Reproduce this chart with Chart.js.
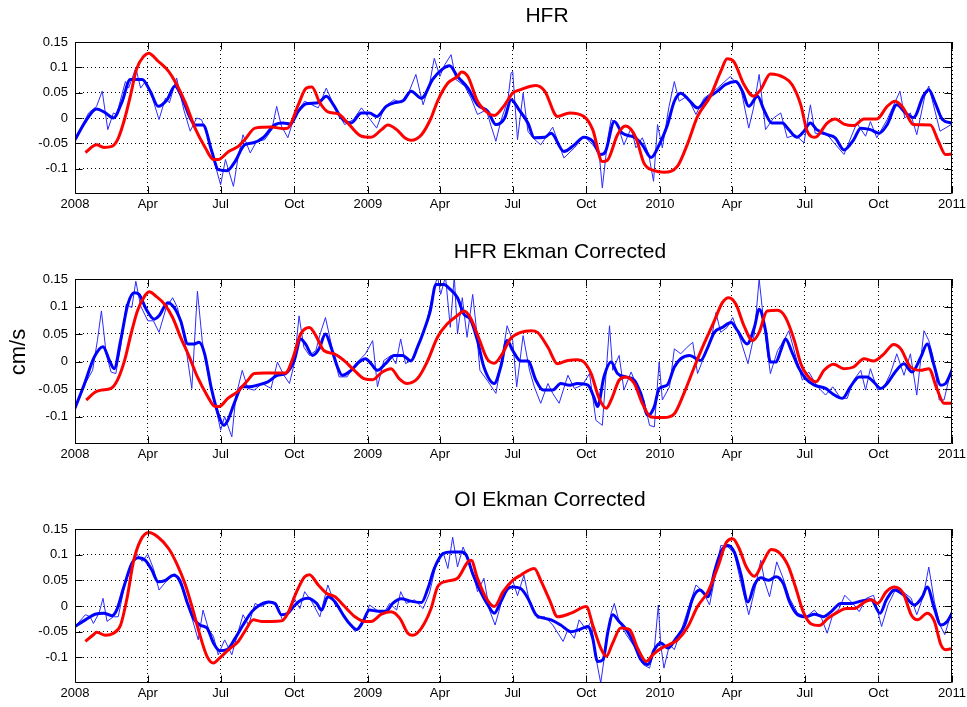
<!DOCTYPE html>
<html>
<head>
<meta charset="utf-8">
<script src="https://cdn.jsdelivr.net/npm/chart.js@4.4.1/dist/chart.umd.min.js"></script>
<style>
  html, body { margin: 0; padding: 0; background: #fff; }
  #wrap { position: relative; width: 967px; height: 707px; overflow: hidden; background: #fff; }
  #wrap canvas { position: absolute; left: 0; }
</style>
</head>
<body>
<div id="wrap">
  <canvas id="p1" width="967" height="232" style="top:0px"></canvas>
  <canvas id="p2" width="967" height="240" style="top:232px"></canvas>
  <canvas id="p3" width="967" height="235" style="top:472px"></canvas>
</div>
<script>
// Time axis: days since 1 Jan 2008, ticks every quarter
const X_TICK_DAYS = [0, 91, 182, 274, 366, 456, 547, 639, 731, 821, 912, 1004, 1096];
const X_TICK_LABELS = ['2008', 'Apr', 'Jul', 'Oct', '2009', 'Apr', 'Jul', 'Oct', '2010', 'Apr', 'Jul', 'Oct', '2011'];
const Y_TICKS = [-0.1, -0.05, 0, 0.05, 0.1, 0.15];

// ---- HFR ----
const hfrRedDays = [13,27,36,46,54,62,69,77,86,92,104,117,125,138,150,163,173,179,192,204,212,225,246,260,266,279,289,296,306,316,329,341,358,370,383,391,402,412,420,433,445,453,466,478,483,491,503,516,524,537,547,557,576,587,603,618,636,647,659,665,678,688,701,711,724,736,753,765,778,794,807,815,823,836,848,857,869,886,896,907,915,925,940,950,961,973,986,1002,1015,1025,1035,1048,1069,1079,1088,1096];
const hfrRedVel = [-0.068,-0.053,-0.058,-0.056,-0.040,-0.002,0.042,0.097,0.122,0.128,0.112,0.092,0.072,0.030,-0.020,-0.059,-0.082,-0.082,-0.066,-0.056,-0.043,-0.020,-0.018,-0.021,-0.020,0.026,0.059,0.061,0.030,0.012,0.008,-0.010,-0.036,-0.038,-0.023,-0.014,-0.023,-0.039,-0.044,-0.033,0.000,0.033,0.069,0.082,0.091,0.082,0.033,0.010,0.005,0.026,0.049,0.056,0.064,0.053,0.003,0.010,0.003,-0.023,-0.086,-0.084,-0.033,-0.016,-0.039,-0.089,-0.104,-0.107,-0.095,-0.053,0.003,0.043,0.092,0.117,0.112,0.066,0.043,0.056,0.087,0.080,0.066,0.026,-0.026,-0.038,-0.010,-0.002,-0.012,-0.015,-0.002,-0.002,0.023,0.033,0.020,-0.013,-0.014,-0.046,-0.072,-0.071];

const hfrBoldDays = [0,13,27,38,48,59,69,84,94,104,115,125,133,144,150,160,171,179,190,200,212,223,235,250,260,269,279,289,304,314,323,333,345,358,368,377,389,399,410,420,433,447,458,468,478,491,503,516,526,537,545,555,566,574,587,595,611,624,636,647,657,663,674,684,699,709,720,730,740,749,757,767,778,790,803,813,826,834,842,853,861,871,884,892,902,911,919,927,940,950,961,973,982,994,1005,1015,1027,1038,1048,1060,1067,1075,1084,1096];
const hfrBoldVel = [-0.043,-0.007,0.018,0.010,0.000,0.033,0.076,0.076,0.053,0.023,0.036,0.063,0.043,0.000,-0.014,-0.014,-0.066,-0.102,-0.104,-0.086,-0.053,-0.049,-0.039,-0.013,-0.010,-0.012,0.013,0.028,0.030,0.043,0.026,0.000,-0.010,0.010,0.010,0.003,0.023,0.030,0.034,0.053,0.039,0.076,0.095,0.103,0.082,0.059,0.026,0.013,-0.013,0.000,0.036,0.016,-0.010,-0.039,-0.038,-0.030,-0.066,-0.053,-0.038,-0.046,-0.072,-0.066,-0.007,-0.030,-0.038,-0.053,-0.078,-0.053,-0.016,0.033,0.049,0.036,0.020,0.039,0.053,0.066,0.072,0.053,0.023,0.043,0.016,-0.010,-0.010,-0.023,-0.038,-0.026,-0.010,-0.023,-0.033,-0.039,-0.063,-0.043,-0.020,-0.023,-0.030,-0.013,0.026,0.010,0.001,0.043,0.056,0.030,-0.003,-0.010];

const hfrThinDays = [0,17,27,34,41,48,52,63,67,76,82,88,96,105,113,118,127,136,144,152,158,167,175,182,188,198,204,210,219,227,237,246,252,258,266,275,287,296,304,314,325,337,348,358,366,377,387,399,408,416,426,435,443,449,456,462,470,476,487,495,503,514,520,526,532,541,545,547,553,560,566,572,582,597,611,624,636,647,655,659,666,670,678,686,695,701,709,717,723,728,734,742,749,755,765,776,786,803,819,832,842,848,855,863,873,882,890,900,911,919,925,940,961,977,988,994,1002,1015,1031,1037,1044,1052,1062,1067,1081,1096];
const hfrThinVel = [-0.043,0.010,0.023,0.053,-0.023,0.010,0.007,0.072,0.059,0.099,0.059,0.072,0.043,-0.003,0.039,0.030,0.079,0.016,-0.026,0.000,-0.003,-0.039,-0.092,-0.132,-0.082,-0.135,-0.076,-0.033,-0.069,-0.046,-0.043,-0.023,0.023,-0.016,-0.039,0.007,0.033,0.026,0.020,0.059,0.020,-0.013,-0.003,0.020,0.003,-0.020,0.023,0.036,0.030,0.046,0.086,0.026,0.066,0.118,0.082,0.105,0.125,0.076,0.063,0.039,0.007,0.016,-0.016,-0.046,-0.007,0.036,0.089,0.092,-0.043,0.049,-0.026,-0.039,-0.053,-0.018,-0.079,-0.059,-0.036,-0.053,-0.069,-0.138,-0.039,-0.003,-0.013,-0.053,-0.020,-0.059,-0.039,-0.072,-0.125,-0.013,-0.059,0.020,0.072,0.033,0.043,0.007,0.039,0.059,0.082,0.059,-0.020,0.020,0.086,-0.023,0.000,0.010,-0.039,-0.033,-0.049,0.026,-0.030,-0.033,-0.072,-0.010,-0.036,-0.007,-0.039,-0.003,0.053,0.000,0.010,-0.033,0.043,0.063,-0.026,-0.012];

// ---- HFR Ekman Corrected ----
const ekmRedDays = [14,26,33,45,53,62,70,78,87,93,101,112,122,132,143,153,166,174,180,191,203,216,224,236,249,263,272,282,293,301,311,324,336,349,361,372,384,395,405,415,428,440,453,465,480,486,494,505,515,524,534,544,557,570,578,591,603,616,628,636,645,655,664,670,680,688,699,709,720,736,749,761,774,786,799,809,817,826,836,847,855,865,878,888,899,907,915,926,936,948,961,973,986,998,1011,1023,1032,1044,1057,1067,1077,1086,1096];
const ekmRedVel = [-0.070,-0.055,-0.052,-0.049,-0.034,0.002,0.050,0.092,0.119,0.127,0.119,0.104,0.080,0.044,0.008,-0.028,-0.064,-0.081,-0.082,-0.067,-0.055,-0.034,-0.022,-0.021,-0.021,-0.021,0.005,0.050,0.062,0.047,0.020,0.014,0.002,-0.016,-0.031,-0.033,-0.019,-0.013,-0.031,-0.040,-0.031,-0.001,0.044,0.068,0.086,0.092,0.080,0.041,0.005,-0.003,0.014,0.041,0.053,0.056,0.053,0.026,-0.004,0.002,0.003,-0.001,-0.022,-0.067,-0.085,-0.070,-0.034,-0.028,-0.040,-0.076,-0.101,-0.102,-0.095,-0.058,-0.010,0.032,0.074,0.107,0.116,0.104,0.065,0.038,0.053,0.092,0.093,0.080,0.038,-0.004,-0.025,-0.037,-0.016,-0.005,-0.013,-0.010,0.005,0.001,0.014,0.031,0.023,-0.010,-0.016,-0.013,-0.049,-0.076,-0.076];

const ekmBoldDays = [0,12,24,35,43,49,57,66,74,80,89,99,105,116,124,132,141,149,155,162,170,180,186,191,199,209,218,228,241,253,263,274,282,288,297,305,313,320,328,334,345,355,363,370,378,388,399,409,420,428,436,444,451,461,469,478,486,494,503,511,524,532,540,547,557,566,576,585,597,607,618,628,641,649,653,661,670,678,688,699,707,716,724,730,740,749,757,768,782,790,799,809,820,828,840,849,855,863,869,876,882,888,896,905,913,924,938,948,959,969,980,990,998,1007,1015,1025,1036,1046,1057,1065,1073,1082,1088,1096];
const ekmBoldVel = [-0.085,-0.040,0.008,0.027,0.002,-0.013,0.038,0.104,0.125,0.122,0.095,0.077,0.083,0.107,0.098,0.074,0.032,0.032,0.035,0.014,-0.046,-0.100,-0.116,-0.107,-0.076,-0.046,-0.046,-0.043,-0.037,-0.025,-0.022,0.002,0.041,0.032,0.011,0.023,0.050,0.026,-0.010,-0.025,-0.016,-0.001,0.005,-0.004,-0.016,-0.004,0.011,0.011,0.001,0.026,0.056,0.092,0.140,0.140,0.131,0.116,0.086,0.077,0.038,-0.010,-0.040,-0.010,0.038,0.020,0.001,0.001,-0.034,-0.052,-0.052,-0.040,-0.043,-0.040,-0.043,-0.067,-0.082,-0.028,-0.001,-0.022,-0.028,-0.034,-0.058,-0.098,-0.082,-0.049,-0.043,-0.010,0.005,0.011,0.002,0.023,0.053,0.062,0.071,0.056,0.032,0.062,0.095,0.056,-0.001,-0.001,0.020,0.041,0.017,-0.013,-0.031,-0.043,-0.049,-0.060,-0.067,-0.046,-0.028,-0.028,-0.037,-0.049,-0.040,-0.019,-0.004,-0.019,0.008,0.032,-0.004,-0.043,-0.040,-0.016];

const ekmThinDays = [0,14,22,28,33,39,45,51,57,64,71,76,82,91,98,105,114,122,128,137,146,153,159,166,174,182,187,196,201,209,216,224,234,245,253,261,268,274,280,286,293,301,307,313,322,330,340,351,363,372,378,386,395,401,407,413,420,430,438,447,453,457,463,469,474,478,484,490,497,501,506,515,526,533,540,547,552,560,568,574,582,591,597,605,616,624,634,643,651,659,668,672,680,686,695,703,711,718,724,730,734,743,749,757,765,772,778,786,795,801,807,815,822,832,841,849,855,861,869,878,886,892,901,909,917,928,938,947,957,965,973,982,988,994,1003,1011,1019,1027,1036,1044,1052,1061,1067,1073,1080,1086,1090,1096];
const ekmThinVel = [-0.085,-0.037,-0.016,0.038,0.092,0.014,-0.019,-0.022,0.026,0.104,0.098,0.146,0.101,0.074,0.074,0.053,0.098,0.116,0.098,0.041,-0.049,0.128,0.038,-0.022,-0.070,-0.125,-0.100,-0.137,-0.064,-0.016,-0.049,-0.052,-0.040,-0.049,-0.001,-0.025,-0.040,-0.004,0.083,0.026,0.011,0.020,0.053,0.080,0.020,-0.028,-0.028,-0.004,0.014,0.038,-0.046,0.002,0.011,-0.004,0.041,-0.004,0.002,0.032,0.062,0.122,0.155,0.122,0.155,0.062,0.155,0.050,0.116,0.044,0.122,0.068,-0.016,-0.034,-0.058,0.000,0.065,0.038,-0.046,0.047,-0.016,-0.046,-0.076,-0.040,-0.058,-0.076,-0.025,-0.049,-0.043,-0.022,-0.107,-0.116,0.065,-0.016,0.011,-0.052,-0.019,-0.049,-0.070,-0.116,-0.119,-0.001,-0.070,-0.046,0.023,0.014,0.026,0.035,-0.022,0.008,0.038,0.089,0.053,0.062,0.080,0.038,-0.004,0.050,0.150,0.068,-0.022,0.020,0.038,0.056,0.008,-0.034,-0.019,-0.046,-0.061,-0.046,-0.067,-0.067,-0.034,-0.016,-0.052,-0.013,-0.052,-0.046,-0.022,0.014,-0.025,0.014,-0.061,0.056,0.038,0.005,-0.070,-0.070,-0.046,-0.007];

// ---- OI Ekman Corrected ----
const oiRedDays = [13,23,27,38,48,57,65,73,82,92,104,117,127,138,148,156,165,173,181,192,204,212,223,233,246,258,266,277,287,293,304,314,325,337,350,362,370,383,395,406,416,422,433,445,453,464,478,491,495,503,514,524,535,547,557,574,582,593,603,620,639,647,657,664,672,682,693,703,714,722,732,743,753,766,778,791,804,814,822,830,839,849,860,870,880,891,901,910,920,930,941,951,964,974,987,995,1003,1014,1024,1035,1045,1053,1065,1074,1082,1088,1096];
const oiRedVel = [-0.069,-0.056,-0.051,-0.057,-0.053,-0.037,0.015,0.086,0.128,0.143,0.134,0.112,0.083,0.041,-0.011,-0.056,-0.098,-0.111,-0.101,-0.085,-0.069,-0.050,-0.027,-0.030,-0.030,-0.029,-0.014,0.028,0.057,0.061,0.041,0.025,0.018,-0.001,-0.021,-0.030,-0.030,-0.016,-0.011,-0.024,-0.053,-0.057,-0.043,-0.005,0.037,0.048,0.054,0.086,0.089,0.054,0.015,-0.001,0.028,0.050,0.060,0.073,0.050,0.012,-0.021,-0.014,-0.001,-0.037,-0.082,-0.098,-0.072,-0.043,-0.046,-0.082,-0.108,-0.095,-0.083,-0.075,-0.066,-0.040,-0.001,0.028,0.079,0.124,0.131,0.112,0.076,0.058,0.086,0.110,0.104,0.079,0.034,-0.011,-0.035,-0.038,-0.024,-0.014,-0.005,-0.005,0.008,0.012,0.005,0.028,0.037,0.025,-0.017,-0.027,-0.014,-0.030,-0.075,-0.085,-0.083];

const oiBoldDays = [0,13,25,36,46,52,61,71,79,88,96,104,113,123,131,140,148,156,165,173,181,190,200,210,221,231,242,250,258,266,275,283,291,302,308,316,325,335,343,352,360,368,379,389,397,408,418,433,441,449,460,470,483,489,497,505,516,524,532,541,547,557,566,576,587,595,607,620,630,641,647,653,660,666,672,680,689,699,707,716,724,732,741,751,762,772,781,791,799,808,816,824,832,841,849,857,867,876,885,893,903,914,924,935,945,957,970,983,995,1006,1014,1024,1036,1049,1059,1065,1074,1082,1090,1096];
const oiBoldVel = [-0.040,-0.027,-0.016,-0.014,-0.019,-0.008,0.037,0.083,0.094,0.089,0.070,0.047,0.050,0.060,0.050,0.008,-0.024,-0.037,-0.043,-0.072,-0.087,-0.085,-0.063,-0.037,-0.011,0.002,0.008,0.005,-0.017,-0.014,0.002,0.012,0.015,0.005,-0.008,0.018,0.008,-0.017,-0.034,-0.046,-0.030,-0.008,-0.010,-0.010,0.005,0.014,0.010,0.007,0.034,0.073,0.102,0.105,0.105,0.099,0.063,0.034,0.002,-0.014,0.008,0.034,0.037,0.034,0.015,-0.017,-0.024,-0.027,-0.037,-0.050,-0.046,-0.040,-0.063,-0.108,-0.104,-0.050,-0.017,-0.030,-0.046,-0.075,-0.104,-0.114,-0.085,-0.072,-0.082,-0.063,-0.037,0.015,0.031,0.018,0.066,0.108,0.118,0.105,0.063,0.008,0.041,0.055,0.050,0.057,0.044,0.008,-0.017,-0.021,-0.016,-0.021,-0.011,0.005,0.005,0.010,0.012,-0.014,0.012,0.031,0.021,0.002,0.018,0.037,-0.005,-0.037,-0.030,-0.014];

const oiThinDays = [0,13,19,23,30,35,40,48,54,63,71,77,84,91,98,105,115,125,133,142,154,160,167,173,179,187,196,204,210,217,225,233,242,252,260,266,273,281,287,296,306,316,325,333,341,350,358,368,377,385,393,402,407,414,424,435,443,451,460,466,472,478,485,491,497,503,511,518,525,532,539,547,553,561,568,578,587,597,610,616,624,630,639,645,651,657,664,670,674,680,689,699,710,718,724,729,732,736,743,749,757,768,776,785,793,801,807,816,824,832,842,849,857,862,868,877,885,893,903,914,924,933,940,947,955,962,972,980,989,998,1008,1016,1026,1037,1045,1052,1060,1067,1074,1081,1087,1096];
const oiThinVel = [-0.040,-0.017,-0.021,-0.034,-0.014,0.015,-0.030,-0.021,-0.021,0.047,0.076,0.102,0.087,0.101,0.073,0.031,0.050,0.063,0.037,-0.001,-0.066,-0.008,-0.046,-0.059,-0.095,-0.066,-0.095,-0.050,-0.017,-0.037,0.005,-0.001,0.007,0.002,-0.030,-0.017,0.018,-0.005,0.028,0.008,-0.021,0.041,0.002,-0.011,-0.030,-0.050,-0.040,0.002,-0.008,-0.017,0.005,-0.008,0.028,0.005,0.012,-0.005,0.025,0.079,0.105,0.073,0.134,0.076,0.115,0.092,0.066,0.028,0.054,-0.008,-0.037,0.002,0.034,0.050,0.020,0.060,0.008,-0.024,-0.021,-0.037,-0.069,-0.046,-0.063,-0.027,-0.046,-0.030,-0.101,-0.150,-0.072,-0.014,0.005,-0.030,-0.056,-0.079,-0.114,-0.121,-0.085,0.002,-0.075,-0.121,-0.075,-0.085,-0.050,0.002,0.041,0.028,0.002,0.066,0.118,0.115,0.102,0.047,-0.017,0.028,0.089,0.047,0.018,0.086,0.054,0.015,-0.014,-0.021,-0.008,-0.024,-0.053,-0.017,-0.005,0.021,0.005,-0.011,0.015,0.021,-0.040,0.002,0.034,0.025,0.015,-0.017,0.018,0.076,0.008,-0.037,-0.056,-0.008];

const FONT = "'Liberation Sans', Arial, Helvetica, sans-serif";
const PAGE_RIGHT_GAP = 15;   // space between plot frame and page edge
const X_AXIS_H = 20;         // room for the month labels
const TICK_LEN = 7;          // inward tick marks

// Page geometry of each panel (canvas top, plot box, title)
const PANELS = [
  { id: 'p1', top: 0,   height: 232, plotTop: 42,  plotBottom: 194, title: 'HFR',                 titleX: 547, titleY: 22,
    red: [hfrRedDays, hfrRedVel], bold: [hfrBoldDays, hfrBoldVel], thin: [hfrThinDays, hfrThinVel] },
  { id: 'p2', top: 232, height: 240, plotTop: 279, plotBottom: 444, title: 'HFR Ekman Corrected', titleX: 560, titleY: 258,
    yLabel: 'cm/s', yLabelX: 25, yLabelY: 352,
    red: [ekmRedDays, ekmRedVel], bold: [ekmBoldDays, ekmBoldVel], thin: [ekmThinDays, ekmThinVel] },
  { id: 'p3', top: 472, height: 235, plotTop: 529, plotBottom: 683, title: 'OI Ekman Corrected',  titleX: 550, titleY: 506,
    red: [oiRedDays, oiRedVel], bold: [oiBoldDays, oiBoldVel], thin: [oiThinDays, oiThinVel] }
];

function toPoints(days, vals) {
  return days.map((d, i) => ({ x: d, y: vals[i] }));
}

// Frame, inward tick marks, panel title and y label
const framePlugin = {
  id: 'frame',
  afterDraw(chart, args, opts) {
    const { ctx, chartArea: a } = chart;
    const xs = chart.scales.x, ys = chart.scales.y;
    const L = Math.round(a.left) + 0.5, R = Math.round(a.right) - 0.5;
    const T = Math.round(a.top) + 0.5, B = Math.round(a.bottom) - 0.5;
    ctx.save();
    ctx.setLineDash([]);
    ctx.strokeStyle = '#000';
    ctx.lineWidth = 1;
    ctx.beginPath();
    ctx.rect(L, T, R - L, B - T);
    xs.ticks.forEach(t => {
      const px = Math.round(xs.getPixelForValue(t.value)) + 0.5;
      ctx.moveTo(px, B); ctx.lineTo(px, B - TICK_LEN);
      ctx.moveTo(px, T); ctx.lineTo(px, T + TICK_LEN);
    });
    ys.ticks.forEach(t => {
      const py = Math.round(ys.getPixelForValue(t.value)) + 0.5;
      ctx.moveTo(L, py); ctx.lineTo(L + TICK_LEN, py);
      ctx.moveTo(R, py); ctx.lineTo(R - TICK_LEN, py);
    });
    ctx.stroke();

    ctx.fillStyle = '#000';
    ctx.font = '21px ' + FONT;
    ctx.textAlign = 'center';
    ctx.textBaseline = 'alphabetic';
    ctx.fillText(opts.title, opts.titleX, opts.titleY);

    if (opts.yLabel) {
      ctx.translate(opts.yLabelX, opts.yLabelY);
      ctx.rotate(-Math.PI / 2);
      ctx.font = '22px ' + FONT;
      ctx.fillText(opts.yLabel, 0, 0);
    }
    ctx.restore();
  }
};

PANELS.forEach(p => {
  const localTop = p.plotTop - p.top;
  const localBottom = p.plotBottom - p.top;
  new Chart(document.getElementById(p.id), {
    type: 'line',
    data: {
      datasets: [
        { data: toPoints(p.red[0], p.red[1]), borderColor: '#ff0000', borderWidth: 3,
          cubicInterpolationMode: 'monotone', pointRadius: 0, borderJoinStyle: 'round', clip: 0 },
        { data: toPoints(p.bold[0], p.bold[1]), borderColor: '#0000ff', borderWidth: 3,
          cubicInterpolationMode: 'monotone', pointRadius: 0, borderJoinStyle: 'round', clip: 0 },
        { data: toPoints(p.thin[0], p.thin[1]), borderColor: '#2b2bff', borderWidth: 1,
          tension: 0, pointRadius: 0, borderJoinStyle: 'round', clip: 0 }
      ]
    },
    options: {
      responsive: false,
      animation: false,
      devicePixelRatio: 1,
      events: [],
      layout: {
        padding: { left: 0, right: PAGE_RIGHT_GAP, top: localTop, bottom: p.height - localBottom - X_AXIS_H }
      },
      plugins: {
        legend: { display: false },
        tooltip: { enabled: false },
        title: { display: false },
        frame: {
          title: p.title, titleX: p.titleX, titleY: p.titleY - p.top,
          yLabel: p.yLabel, yLabelX: p.yLabelX, yLabelY: p.yLabel ? p.yLabelY - p.top : 0
        }
      },
      scales: {
        x: {
          type: 'linear',
          position: 'bottom',
          min: 0,
          max: 1096,
          afterBuildTicks: s => { s.ticks = X_TICK_DAYS.map(v => ({ value: v })); },
          afterFit: s => { s.height = X_AXIS_H; s.paddingLeft = 0; s.paddingRight = 0; },
          ticks: {
            autoSkip: false, maxRotation: 0, minRotation: 0, padding: 3, color: '#000',
            font: { family: FONT, size: 13 },
            callback: (v, i) => X_TICK_LABELS[i]
          },
          grid: { color: '#000', lineWidth: 1, drawTicks: false },
          border: { display: false, dash: [1, 3] }
        },
        y: {
          type: 'linear',
          position: 'left',
          min: -0.15,
          max: 0.15,
          afterBuildTicks: s => { s.ticks = Y_TICKS.map(v => ({ value: v })); },
          afterFit: s => { s.width = 75; s.paddingTop = 0; s.paddingBottom = 0; },
          ticks: {
            padding: 7, color: '#000',
            font: { family: FONT, size: 13 },
            callback: v => String(v)
          },
          grid: { color: '#000', lineWidth: 1, drawTicks: false },
          border: { display: false, dash: [1, 3] }
        }
      }
    },
    plugins: [framePlugin]
  });
});
</script>
</body>
</html>
